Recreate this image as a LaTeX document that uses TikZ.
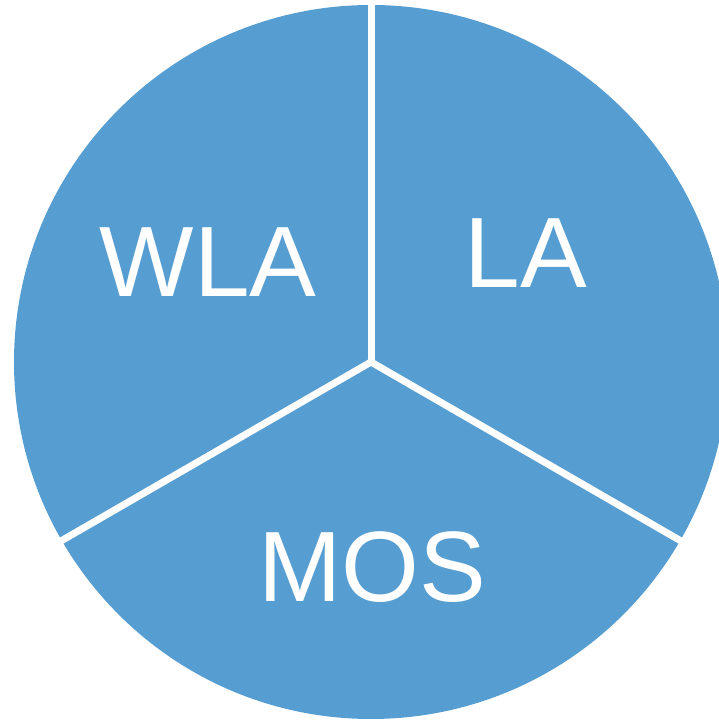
\documentclass[tikz,border=0pt]{standalone}
\usepackage{fontspec}
\setmainfont{Liberation Sans}
\definecolor{pieblue}{RGB}{86,158,210}
\begin{document}
\begin{tikzpicture}[x=1pt,y=1pt,
  sector/.style={fill=pieblue,draw=white,line width=7pt,line join=miter},
  lbl/.style={text=white,font=\fontsize{100}{100}\selectfont,inner sep=0pt}]
\useasboundingbox (0,0) rectangle (718,720);
\coordinate (c) at (371,358);
\fill[pieblue] (c) circle (357);
\draw[white,line width=7pt] (c) -- ++(90:370);
\draw[white,line width=7pt] (c) -- ++(210:370);
\draw[white,line width=7pt] (c) -- ++(-30:370);
\node[lbl] (wla) at (208,458) {WLA};
\node[lbl] (la) at (526,467) {LA};
\node[lbl] (mos) at (372,153) {MOS};
\end{tikzpicture}
\end{document}
